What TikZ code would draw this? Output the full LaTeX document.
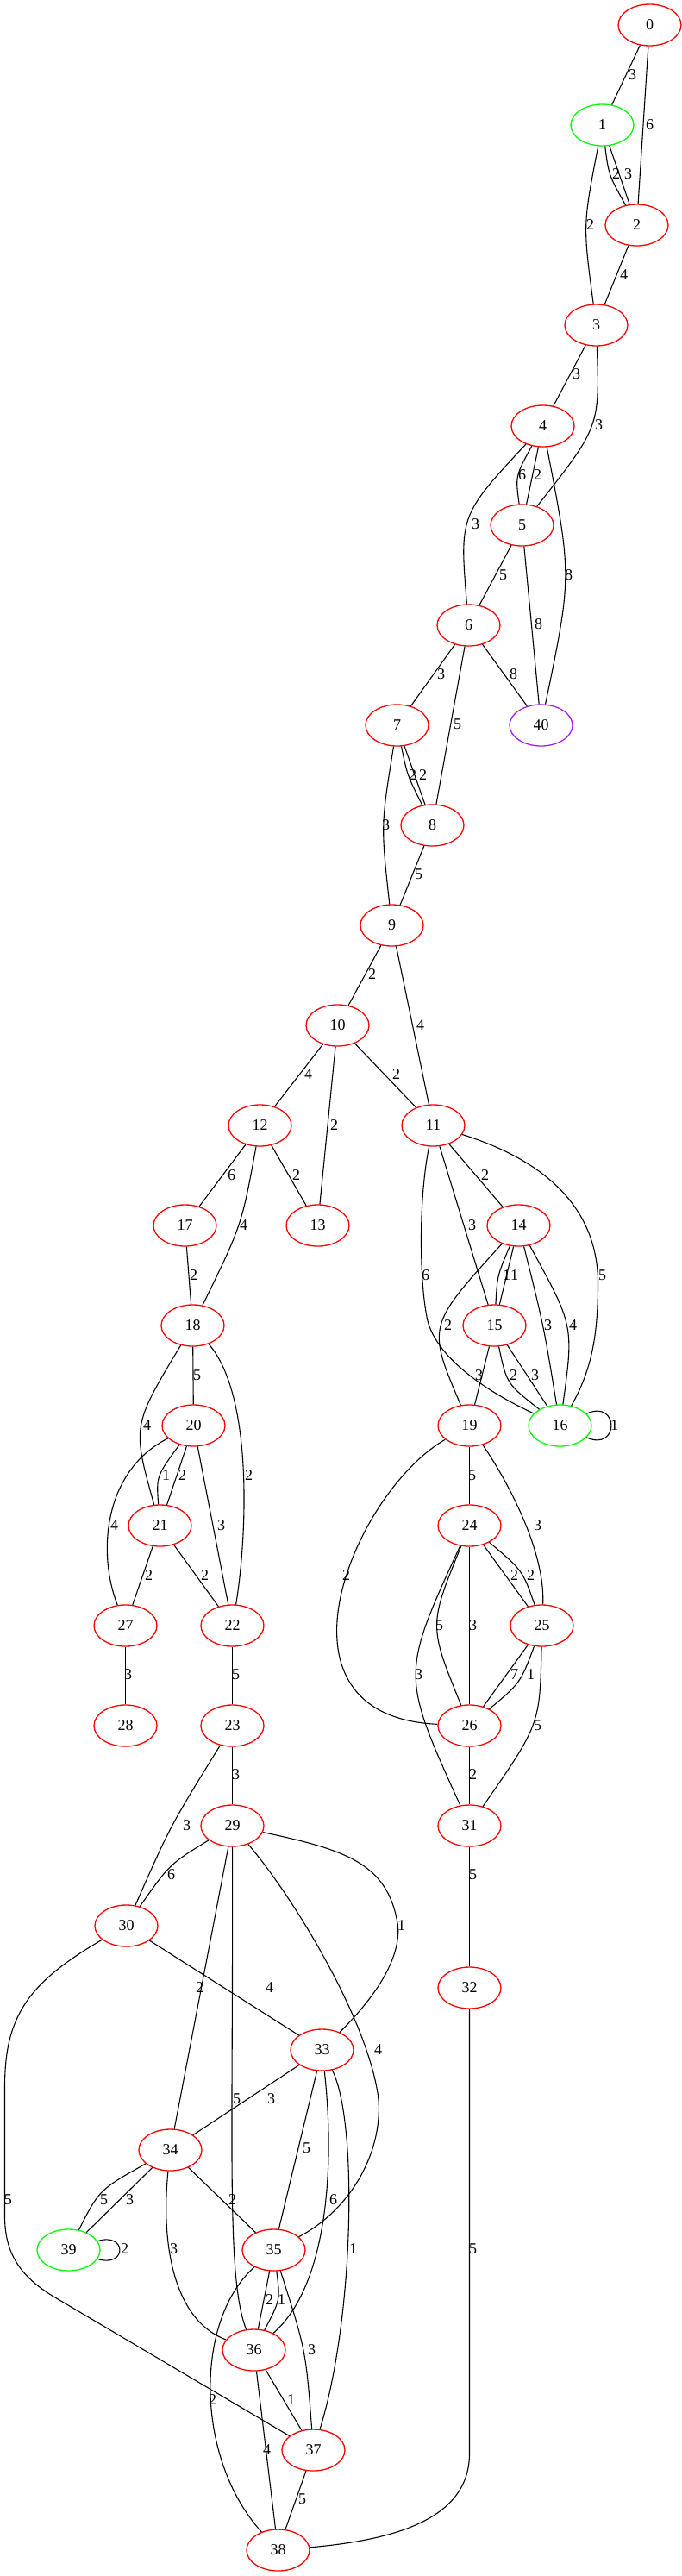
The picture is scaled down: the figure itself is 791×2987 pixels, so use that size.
\documentclass[tikz,border=0pt]{standalone}
\usepackage{fontspec}
\setmainfont{Liberation Serif}
\usetikzlibrary{shapes.geometric}
\definecolor{gvred}{RGB}{255,0,0}
\definecolor{gvgreen}{RGB}{0,255,0}
\definecolor{gvpurple}{RGB}{160,32,240}
\newcommand{\gvfs}{\fontsize{18}{18}\selectfont}
\tikzset{
  nd/.style={ellipse, draw=gvred, line width=1.3pt, minimum width=73pt, minimum height=48pt, inner sep=0pt, font=\gvfs},
  gn/.style={nd, draw=gvgreen},
  pn/.style={nd, draw=gvpurple},
  lb/.style={inner sep=0pt, font=\gvfs},
  ed/.style={line width=1.1pt, black}
}
\begin{document}
\begin{tikzpicture}[x=1pt,y=-1pt]
\fill[white] (0,0) rectangle (791,2987);
\useasboundingbox (0,0) rectangle (791,2987);
\begin{scope}[xshift=0.5pt]
% nodes
\node[nd] (n0) at (753,29) {0};
\node[gn] (n1) at (698,145) {1};
\node[nd] (n2) at (738,261) {2};
\node[nd] (n3) at (691,377) {3};
\node[nd] (n4) at (629,494) {4};
\node[nd] (n5) at (605,609) {5};
\node[nd] (n6) at (543,725) {6};
\node[nd] (n7) at (460,841) {7};
\node[pn] (n40) at (627,841) {40};
\node[nd] (n8) at (501,957) {8};
\node[nd] (n9) at (454,1073) {9};
\node[nd] (n10) at (391,1189) {10};
\node[nd] (n11) at (502,1305) {11};
\node[nd] (n12) at (301,1305) {12};
\node[nd] (n13) at (368,1421) {13};
\node[nd] (n14) at (601,1421) {14};
\node[nd] (n17) at (214,1421) {17};
\node[nd] (n15) at (573,1537) {15};
\node[nd] (n18) at (223,1537) {18};
\node[gn] (n16) at (649,1653) {16};
\node[nd] (n19) at (544,1653) {19};
\node[nd] (n20) at (224,1653) {20};
\node[nd] (n21) at (185,1769) {21};
\node[nd] (n24) at (544,1769) {24};
\node[nd] (n22) at (269,1885) {22};
\node[nd] (n25) at (628,1885) {25};
\node[nd] (n27) at (145,1885) {27};
\node[nd] (n23) at (269,2001) {23};
\node[nd] (n26) at (544,2001) {26};
\node[nd] (n28) at (145,2001) {28};
\node[nd] (n29) at (269,2117) {29};
\node[nd] (n31) at (544,2117) {31};
\node[nd] (n30) at (146,2233) {30};
\node[nd] (n32) at (544,2305) {32};
\node[nd] (n33) at (373,2377) {33};
\node[nd] (n34) at (197,2493) {34};
\node[nd] (n35) at (317,2609) {35};
\node[gn] (n39) at (79,2609) {39};
\node[nd] (n36) at (294,2725) {36};
\node[nd] (n37) at (363,2841) {37};
\node[nd] (n38) at (322,2957) {38};
% edges
\draw[ed] (n0) -- (n1);
\draw[ed] (n0) -- (n2);
\draw[ed] (n1) .. controls (705.5,203) .. (n2);
\draw[ed] (n1) -- (n2);
\draw[ed] (n1) .. controls (675.5,261) .. (n3);
\draw[ed] (n2) -- (n3);
\draw[ed] (n3) -- (n4);
\draw[ed] (n3) .. controls (695,495) .. (n5);
\draw[ed] (n4) .. controls (597.2,552) .. (n5);
\draw[ed] (n4) -- (n5);
\draw[ed] (n4) .. controls (532.5,597.7) .. (n6);
\draw[ed] (n4) .. controls (662.8,668) .. (n40);
\draw[ed] (n5) -- (n6);
\draw[ed] (n5) -- (n40);
\draw[ed] (n6) -- (n7);
\draw[ed] (n6) -- (n8);
\draw[ed] (n6) -- (n40);
\draw[ed] (n7) .. controls (471.8,898.8) .. (n8);
\draw[ed] (n7) -- (n8);
\draw[ed] (n7) .. controls (441.2,957) .. (n9);
\draw[ed] (n8) -- (n9);
\draw[ed] (n9) -- (n10);
\draw[ed] (n9) -- (n11);
\draw[ed] (n10) -- (n12);
\draw[ed] (n10) -- (n13);
\draw[ed] (n10) -- (n11);
\draw[ed] (n12) -- (n17);
\draw[ed] (n12) -- (n13);
\draw[ed] (n12) .. controls (279.8,1420.8) .. (n18);
\draw[ed] (n17) -- (n18);
\draw[ed] (n11) -- (n14);
\draw[ed] (n11) -- (n15);
\draw[ed] (n11) .. controls (485,1390) and (486,1480) .. (494,1524) .. controls (500,1570) and (560,1612) .. (n16);
\draw[ed] (n11) .. controls (630,1345) and (694,1400) .. (693,1490) .. controls (693,1550) and (685,1590) .. (n16);
\draw[ed] (n14) .. controls (576.3,1479) .. (n15);
\draw[ed] (n14) -- (n15);
\draw[ed] (n14) .. controls (494.8,1537.7) .. (n19);
\draw[ed] (n14) .. controls (630,1536.8) .. (n16);
\draw[ed] (n14) .. controls (665,1537) .. (n16);
\draw[ed] (n15) -- (n19);
\draw[ed] (n15) .. controls (587,1604.3) .. (n16);
\draw[ed] (n15) -- (n16);
\draw[ed] (n16) .. controls (718,1622) and (718,1684) .. (n16);
\draw[ed] (n18) -- (n20);
\draw[ed] (n18) .. controls (152.7,1653.5) .. (n21);
\draw[ed] (n18) .. controls (295,1620) and (285,1790) .. (n22);
\draw[ed] (n20) .. controls (180.8,1711.7) .. (n21);
\draw[ed] (n20) -- (n21);
\draw[ed] (n20) .. controls (120,1705) and (112,1800) .. (n27);
\draw[ed] (n20) -- (n22);
\draw[ed] (n21) -- (n27);
\draw[ed] (n21) -- (n22);
\draw[ed] (n27) -- (n28);
\draw[ed] (n22) -- (n23);
\draw[ed] (n19) -- (n24);
\draw[ed] (n19) .. controls (590,1720) and (632,1800) .. (n25);
\draw[ed] (n19) .. controls (410,1730) and (300,1990) .. (n26);
\draw[ed] (n24) .. controls (496.7,1885) .. (n26);
\draw[ed] (n24) -- (n26);
\draw[ed] (n24) .. controls (464.5,1941.8) .. (n31);
\draw[ed] (n24) -- (n25);
\draw[ed] (n24) .. controls (605.7,1821) .. (n25);
\draw[ed] (n25) -- (n26);
\draw[ed] (n25) .. controls (603.2,1951.3) .. (n26);
\draw[ed] (n25) .. controls (625.8,1999.3) .. (n31);
\draw[ed] (n26) -- (n31);
\draw[ed] (n23) -- (n29);
\draw[ed] (n23) .. controls (197,2117.2) .. (n30);
\draw[ed] (n29) .. controls (196.2,2161.5) .. (n30);
\draw[ed] (n31) -- (n32);
\draw[ed] (n29) .. controls (400,2145) and (450,2160) .. (461,2233) .. controls (465,2280) and (420,2330) .. (n33);
\draw[ed] (n29) -- (n34);
\draw[ed] (n29) .. controls (270,2500) and (262,2640) .. (n36);
\draw[ed] (n29) .. controls (340,2200) and (425,2340) .. (438,2430) .. controls (445,2490) and (410,2560) .. (n35);
\draw[ed] (n30) -- (n33);
\draw[ed] (n30) .. controls (30,2300) and (5,2340) .. (5,2420) -- (5,2570) .. controls (5,2615) and (25,2640) .. (60,2662) -- (n37);
\draw[ed] (n32) -- (544,2845) .. controls (544,2920) and (460,2945) .. (n38);
\draw[ed] (n33) -- (n34);
\draw[ed] (n33) -- (n35);
\draw[ed] (n33) .. controls (388,2510) and (380,2650) .. (n36);
\draw[ed] (n33) .. controls (415,2460) and (410,2690) .. (n37);
\draw[ed] (n34) .. controls (114.7,2539) .. (n39);
\draw[ed] (n34) -- (n39);
\draw[ed] (n39) .. controls (147,2588) and (147,2630) .. (n39);
\draw[ed] (n34) -- (n35);
\draw[ed] (n34) .. controls (186,2600) and (200,2690) .. (n36);
\draw[ed] (n35) -- (n36);
\draw[ed] (n35) .. controls (324.7,2666.8) .. (n36);
\draw[ed] (n35) .. controls (354.2,2725) .. (n37);
\draw[ed] (n35) .. controls (225,2690) and (225,2850) .. (n38);
\draw[ed] (n36) -- (n37);
\draw[ed] (n36) -- (n38);
\draw[ed] (n37) -- (n38);
% edge labels
\node[lb] (l1) at (733,87) {3};
\node[lb] (l2) at (753,145) {6};
\node[lb] (l3) at (714,202) {2};
\node[lb] (l4) at (728,202) {3};
\node[lb] (l5) at (684,261) {2};
\node[lb] (l6) at (723,319) {4};
\node[lb] (l7) at (668,434) {3};
\node[lb] (l8) at (694,493) {3};
\node[lb] (l9) at (605,551) {6};
\node[lb] (l10) at (623,551) {2};
\node[lb] (l11) at (551,608) {3};
\node[lb] (l12) at (659,667) {8};
\node[lb] (l13) at (583,667) {5};
\node[lb] (l14) at (624,724) {8};
\node[lb] (l15) at (511,782) {3};
\node[lb] (l16) at (530,840) {5};
\node[lb] (l17) at (595,782) {8};
\node[lb] (l18) at (478,899) {2};
\node[lb] (l19) at (490,899) {2};
\node[lb] (l20) at (447,957) {3};
\node[lb] (l21) at (485,1014) {5};
\node[lb] (l22) at (431,1130) {2};
\node[lb] (l23) at (487,1189) {4};
\node[lb] (l24) at (357,1246) {4};
\node[lb] (l25) at (459,1246) {2};
\node[lb] (l26) at (387,1305) {2};
\node[lb] (l27) at (268,1363) {6};
\node[lb] (l28) at (343,1363) {2};
\node[lb] (l29) at (282,1421) {4};
\node[lb] (l30) at (224,1479) {2};
\node[lb] (l31) at (562,1363) {2};
\node[lb] (l32) at (547,1421) {3};
\node[lb] (l33) at (493,1479) {6};
\node[lb] (l34) at (698,1479) {5};
\node[lb] (l35) at (587,1479) {1};
\node[lb] (l36) at (596,1479) {1};
\node[lb] (l37) at (519,1537) {2};
\node[lb] (l38) at (635,1537) {3};
\node[lb] (l39) at (664,1537) {4};
\node[lb] (l40) at (228,1595) {5};
\node[lb] (l41) at (555,1595) {3};
\node[lb] (l42) at (595,1595) {2};
\node[lb] (l43) at (620,1595) {3};
\node[lb] (l44) at (712,1653) {1};
\node[lb] (l45) at (170,1653) {4};
\node[lb] (l46) at (288,1711) {2};
\node[lb] (l47) at (192,1711) {1};
\node[lb] (l48) at (211,1711) {2};
\node[lb] (l49) at (547,1711) {5};
\node[lb] (l50) at (132,1769) {4};
\node[lb] (l51) at (256,1769) {3};
\node[lb] (l52) at (623,1769) {3};
\node[lb] (l53) at (172,1827) {2};
\node[lb] (l54) at (237,1827) {2};
\node[lb] (l55) at (401,1827) {2};
\node[lb] (l56) at (596,1827) {2};
\node[lb] (l57) at (615,1827) {2};
\node[lb] (l58) at (509,1885) {5};
\node[lb] (l59) at (548,1885) {3};
\node[lb] (l60) at (485,1942) {3};
\node[lb] (l61) at (148,1942) {3};
\node[lb] (l62) at (273,1942) {5};
\node[lb] (l63) at (596,1942) {7};
\node[lb] (l64) at (615,1942) {1};
\node[lb] (l65) at (623,2001) {5};
\node[lb] (l66) at (548,2058) {2};
\node[lb] (l67) at (273,2058) {3};
\node[lb] (l68) at (216,2117) {3};
\node[lb] (l69) at (198,2174) {6};
\node[lb] (l70) at (548,2174) {5};
\node[lb] (l71) at (465,2233) {1};
\node[lb] (l72) at (231,2305) {2};
\node[lb] (l73) at (312,2305) {4};
\node[lb] (l74) at (438,2377) {4};
\node[lb] (l75) at (274,2434) {5};
\node[lb] (l76) at (314,2434) {3};
\node[lb] (l77) at (355,2491) {5};
\node[lb] (l78) at (9,2551) {5};
\node[lb] (l79) at (120,2551) {5};
\node[lb] (l80) at (150,2551) {3};
\node[lb] (l81) at (269,2551) {2};
\node[lb] (l82) at (386,2551) {6};
\node[lb] (l83) at (144,2608) {2};
\node[lb] (l84) at (201,2608) {3};
\node[lb] (l85) at (409,2608) {1};
\node[lb] (l86) at (548,2608) {5};
\node[lb] (l87) at (312,2667) {2};
\node[lb] (l88) at (326,2667) {1};
\node[lb] (l89) at (361,2725) {3};
\node[lb] (l90) at (246,2783) {2};
\node[lb] (l91) at (337,2783) {1};
\node[lb] (l92) at (309,2841) {4};
\node[lb] (l93) at (350,2898) {5};
\end{scope}
\end{tikzpicture}
\end{document}
